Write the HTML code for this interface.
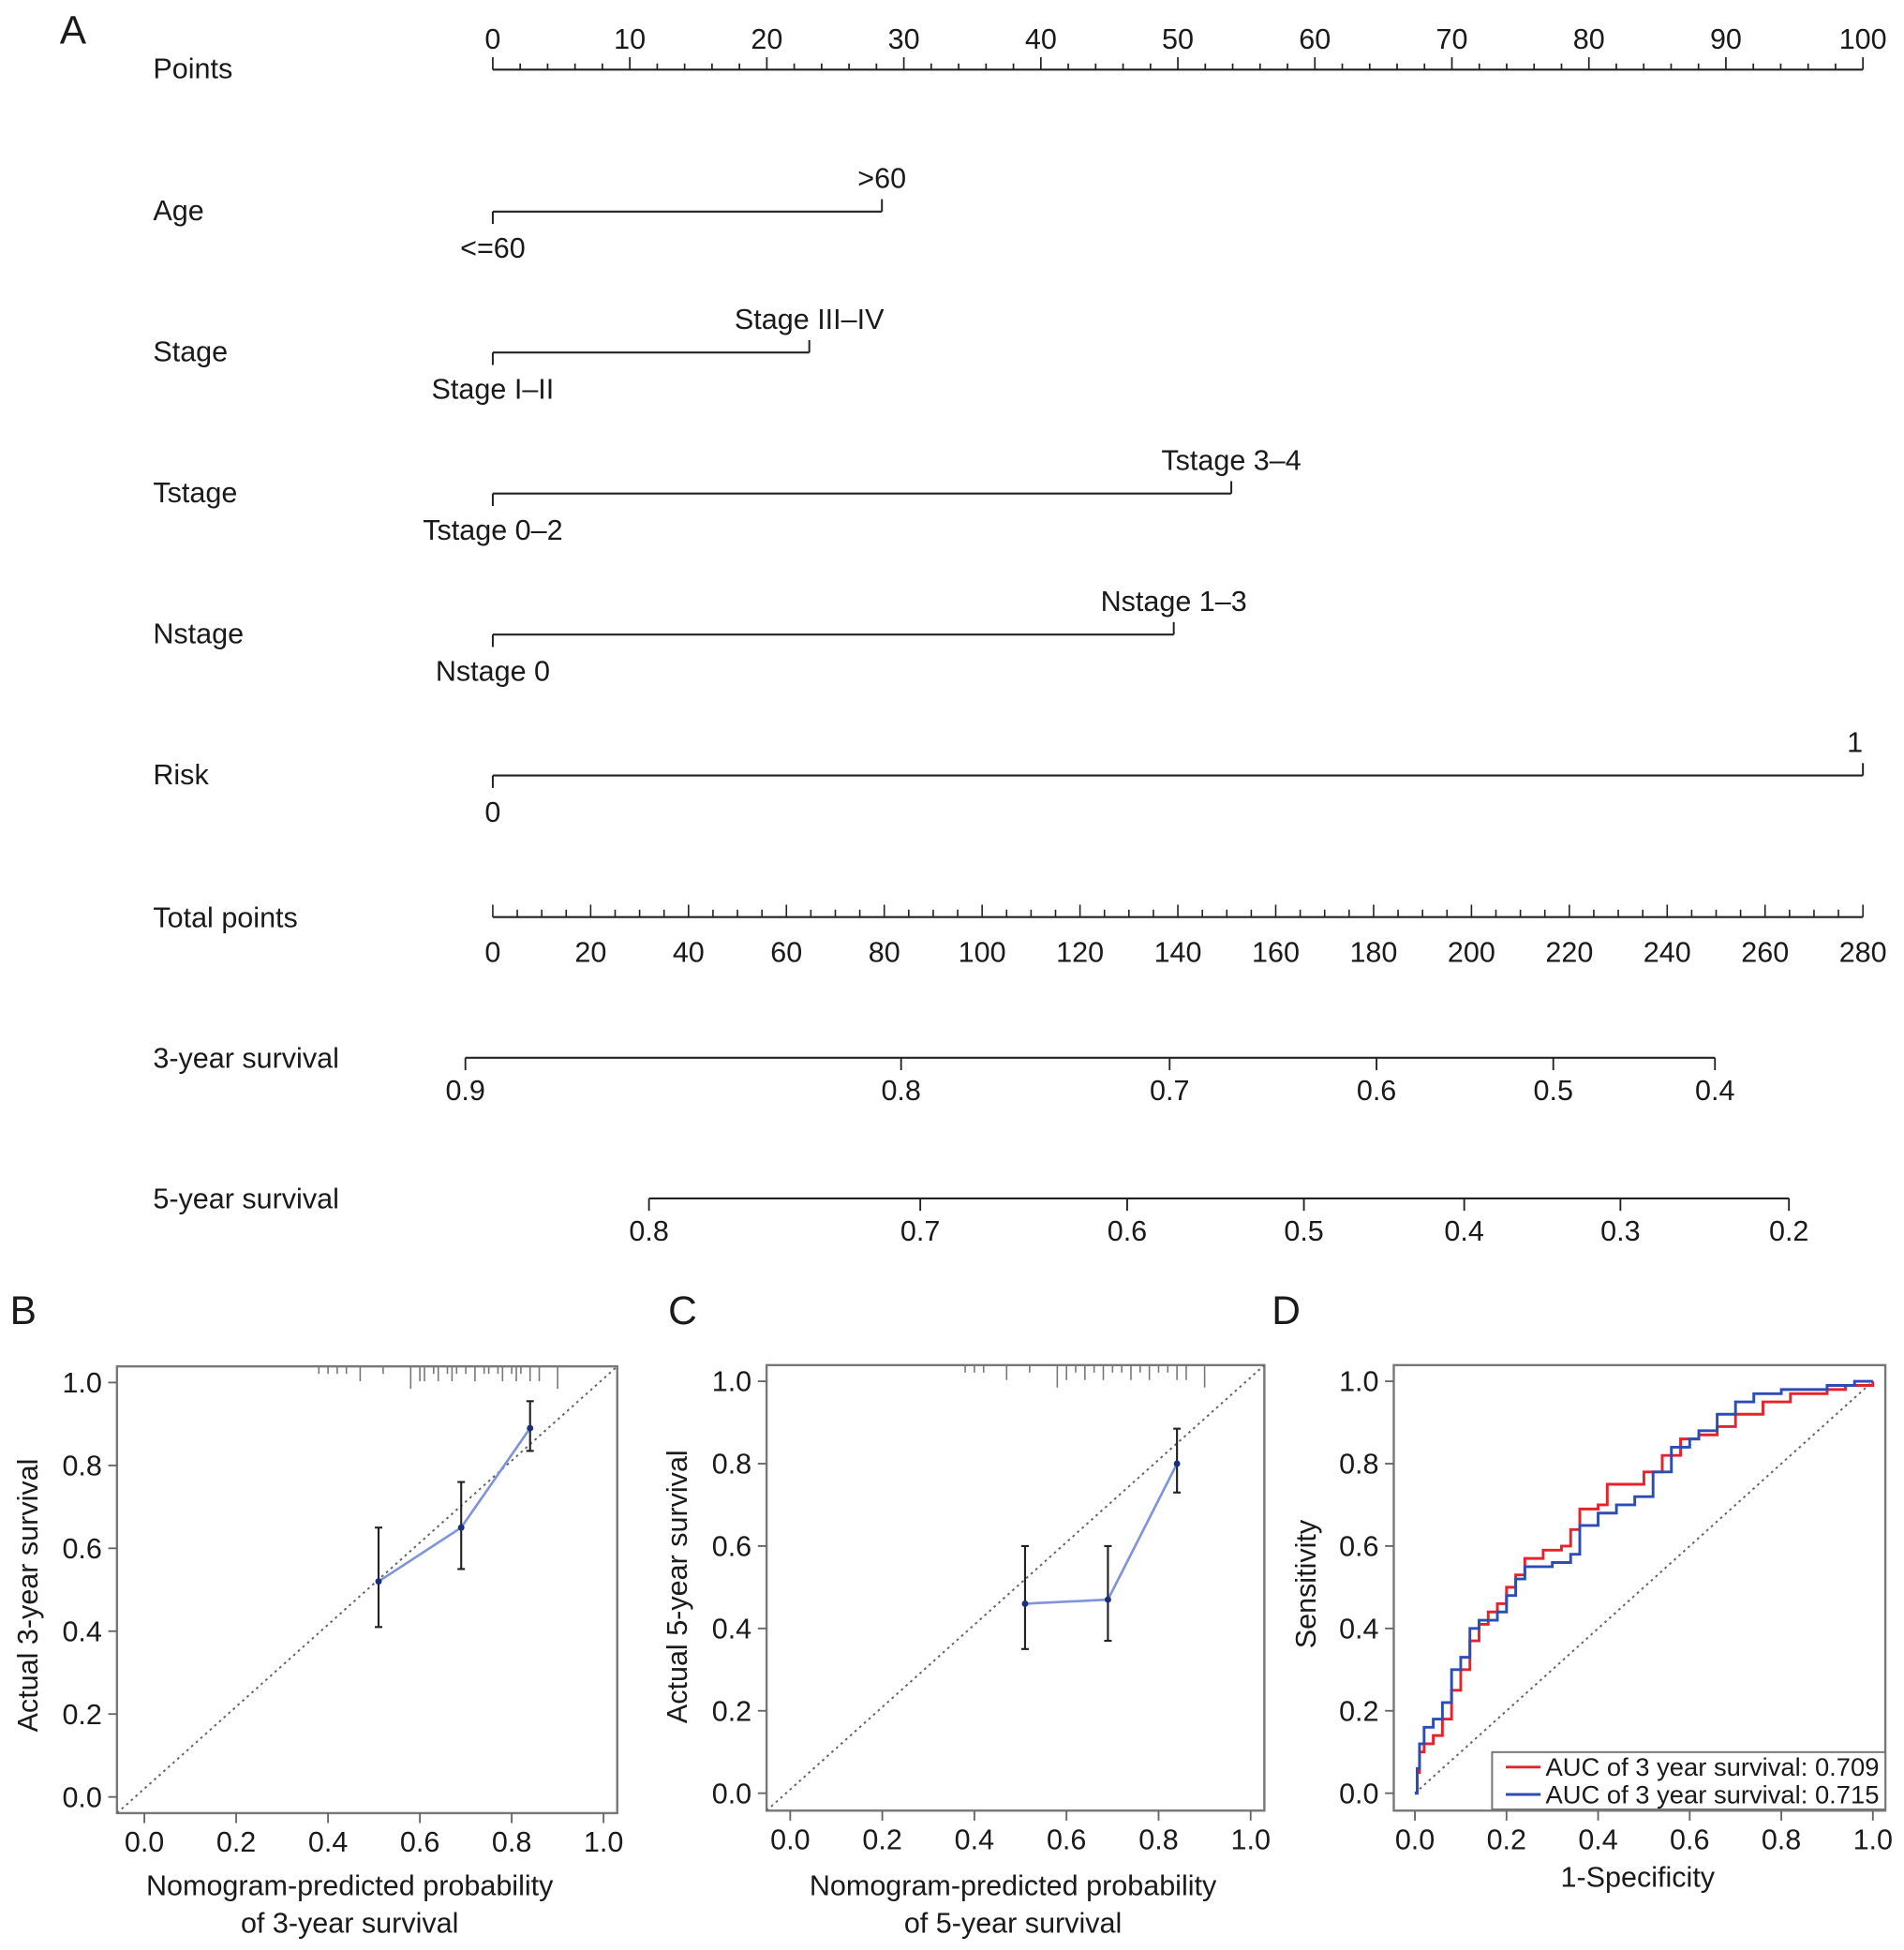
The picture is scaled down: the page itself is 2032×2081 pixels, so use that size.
<!DOCTYPE html>
<html><head><meta charset="utf-8"><style>
html,body{margin:0;padding:0;background:#fff}
svg{display:block}
text{font-family:"Liberation Sans",Arial,sans-serif;fill:#1a1a1a}
</style></head><body>
<svg id="fig" width="2032" height="2081" viewBox="0 0 1530 1567" preserveAspectRatio="none" xmlns="http://www.w3.org/2000/svg"></svg>
<script>
// ---------- Nomogram data ----------
const nomoRows = ["Age","Stage","Tstage","Nstage","Risk"];
const nomoHi = [28.4, 23.1, 53.9, 49.7, 100];
const nomoLowLabels = ["<=60","Stage I–II","Tstage 0–2","Nstage 0","0"];
const nomoHighLabels = [">60","Stage III–IV","Tstage 3–4","Nstage 1–3","1"];
const pointTicks = [0,10,20,30,40,50,60,70,80,90,100];
const totalTicks = [0,20,40,60,80,100,120,140,160,180,200,220,240,260,280];
const surv3Ticks = [0.9,0.8,0.7,0.6,0.5,0.4];
const surv3Pos = [-2,29.8,49.4,64.5,77.4,89.2];
const surv5Ticks = [0.8,0.7,0.6,0.5,0.4,0.3,0.2];
const surv5Pos = [11.4,31.2,46.3,59.2,70.9,82.3,94.6];
// ---------- Calibration data ----------
const calBx = [0.51,0.69,0.84];
const calBy = [0.52,0.65,0.89];
const calBlo = [0.41,0.55,0.835];
const calBhi = [0.65,0.76,0.955];
const calCx = [0.51,0.69,0.84];
const calCy = [0.46,0.47,0.80];
const calClo = [0.35,0.37,0.73];
const calChi = [0.60,0.60,0.885];
const rugB = [0.38,0.4,0.42,0.44,0.47,0.52,0.58,0.6,0.61,0.63,0.64,0.66,0.67,0.68,0.7,0.72,0.74,0.75,0.77,0.78,0.8,0.81,0.82,0.84,0.86,0.9];
const rugBlen = [1,1,1,1,2,1,3,2,2,1,2,1,2,1,1,2,1,1,1,2,1,2,1,2,2,3];
const rugC = [0.38,0.4,0.42,0.47,0.52,0.58,0.6,0.62,0.64,0.66,0.68,0.7,0.72,0.74,0.76,0.78,0.8,0.82,0.84,0.86,0.9];
const rugClen = [1,1,1,2,1,3,2,1,2,1,2,1,1,2,1,2,1,1,2,2,3];
// ---------- ROC data ----------
const rocRedX = [0,0.005,0.01,0.02,0.04,0.06,0.08,0.1,0.12,0.14,0.16,0.18,0.2,0.22,0.24,0.28,0.32,0.34,0.36,0.38,0.4,0.42,0.48,0.5,0.54,0.58,0.62,0.66,0.7,0.76,0.82,0.9,0.94,1];
const rocRedY = [0,0.05,0.1,0.12,0.14,0.18,0.25,0.3,0.37,0.41,0.44,0.46,0.5,0.53,0.57,0.59,0.6,0.64,0.69,0.69,0.7,0.75,0.75,0.78,0.82,0.86,0.87,0.89,0.92,0.95,0.97,0.98,0.99,1];
const rocBlueX = [0,0.005,0.01,0.02,0.04,0.06,0.08,0.1,0.12,0.14,0.18,0.2,0.22,0.24,0.3,0.34,0.36,0.4,0.44,0.48,0.52,0.56,0.6,0.62,0.66,0.7,0.74,0.8,0.9,0.96,1];
const rocBlueY = [0,0.06,0.12,0.16,0.18,0.22,0.3,0.33,0.4,0.42,0.44,0.48,0.52,0.55,0.56,0.58,0.65,0.68,0.7,0.72,0.78,0.84,0.86,0.88,0.92,0.95,0.97,0.98,0.99,1,1];
const legendLabels = ["AUC of 3 year survival: 0.709","AUC of 3 year survival: 0.715"];

const NS="http://www.w3.org/2000/svg";
const svg=document.getElementById('fig');
const FS=23;
function mk(tag,attrs,parent){const e=document.createElementNS(NS,tag);for(const k in attrs)e.setAttribute(k,attrs[k]);(parent||svg).appendChild(e);return e;}
function txt(s,x,y,size,anchor,parent){const t=mk('text',{x:x,y:y,'font-size':size,'text-anchor':anchor||'start'},parent);t.textContent=s;return t;}

[["A",48,35],["B",8,1064],["C",537,1064],["D",1022,1064]].forEach(p=>{
  const t=txt(p[0],p[1],p[2],32);
  
  
});

// ---------- Panel A ----------
const px = v => 396 + v*(1497-396)/100;
const gA=mk('g',{});


function rowLabel(s,y){const t=txt(s,123,y+8,FS,'start',gA);}
rowLabel("Points",55);
mk('line',{x1:px(0),x2:px(100),y1:56,y2:56,stroke:'#222','stroke-width':1.6},gA);
for(let i=0;i<=50;i++){const v=i*2;const big=v%10===0;mk('line',{x1:px(v),x2:px(v),y1:56,y2:big?46:51,stroke:'#222','stroke-width':1.3},gA);}
pointTicks.forEach(v=>{const t=txt(String(v),px(v),39,FS,'middle',gA);});
nomoRows.forEach((r,i)=>{
  const y=170+i*113.3;
  rowLabel(r,y-1);
  const ln=mk('line',{x1:px(0),x2:px(nomoHi[i]),y1:y,y2:y,stroke:'#222','stroke-width':1.6},gA);
  
  
  mk('line',{x1:px(0),x2:px(0),y1:y,y2:y+10,stroke:'#222','stroke-width':1.5},gA);
  mk('line',{x1:px(nomoHi[i]),x2:px(nomoHi[i]),y1:y,y2:y-10,stroke:'#222','stroke-width':1.5},gA);
  const lo=txt(nomoLowLabels[i],px(0),y+37,FS,'middle',gA);
  
  
  const hi=txt(nomoHighLabels[i],px(nomoHi[i]),y-19,FS,nomoHi[i]>=100?'end':'middle',gA);
  
  
});
const ty=737;
rowLabel("Total points",ty);
const tx=v=>px(v*100/280);
mk('line',{x1:tx(0),x2:tx(280),y1:ty,y2:ty,stroke:'#222','stroke-width':1.6},gA);
for(let v=0;v<=280;v+=5){const big=v%20===0;mk('line',{x1:tx(v),x2:tx(v),y1:ty,y2:ty-(big?10:6),stroke:'#222','stroke-width':1.2},gA);}
totalTicks.forEach(v=>{const t=txt(String(v),tx(v),ty+36,FS,'middle',gA);});
function survAxis(label,y,ticks,pos){
  rowLabel(label,y);
  mk('line',{x1:px(pos[0]),x2:px(pos[pos.length-1]),y1:y,y2:y,stroke:'#222','stroke-width':1.6},gA);
  ticks.forEach((v,i)=>{
    mk('line',{x1:px(pos[i]),x2:px(pos[i]),y1:y,y2:y+10,stroke:'#222','stroke-width':1.4},gA);
    const t=txt(v.toFixed(1),px(pos[i]),y+34,FS,'middle',gA);
    
    
  });
}
survAxis("3-year survival",850,surv3Ticks,surv3Pos);
survAxis("5-year survival",963,surv5Ticks,surv5Pos);

function frame(box,x0,x1,y0,y1,name){
  const g=mk('g',{});
  
  
  const sx=v=>x0+v*(x1-x0), sy=v=>y0-v*(y0-y1);
  mk('rect',{x:box[0],y:box[1],width:box[2]-box[0],height:box[3]-box[1],fill:'none',stroke:'#777','stroke-width':1.8},g);
  [0,0.2,0.4,0.6,0.8,1].forEach(v=>{
    mk('line',{x1:sx(v),x2:sx(v),y1:box[3],y2:box[3]+8,stroke:'#666','stroke-width':1.4},g);
    const t=txt(v.toFixed(1),sx(v),box[3]+31,FS,'middle',g);
    
    
    mk('line',{x1:box[0],x2:box[0]-7,y1:sy(v),y2:sy(v),stroke:'#666','stroke-width':1.4},g);
    const u=txt(v.toFixed(1),box[0]-12,sy(v)+8,FS,'end',g);
    
    
  });
  return {g,sx,sy};
}
function calPanel(box,x0,x1,y0,y1,xs,ys,lo,hi,rug,rugLen,name){
  const {g,sx,sy}=frame(box,x0,x1,y0,y1,name);
  const d=mk('line',{x1:box[0],y1:box[3],x2:box[2],y2:box[1],stroke:'#666','stroke-width':1.5,'stroke-dasharray':'2,3'},g);
  
  
  rug.forEach((v,i)=>{
    const r=mk('line',{x1:sx(v),x2:sx(v),y1:box[1],y2:box[1]+rugLen[i]*6,stroke:'#777','stroke-width':1.2},g);
    
    
  });
  const pl=mk('polyline',{points:xs.map((v,i)=>sx(v)+','+sy(ys[i])).join(' '),fill:'none',stroke:'#7f95d8','stroke-width':2},g);
  
  
  xs.forEach((v,i)=>{
    const e=mk('line',{x1:sx(v),x2:sx(v),y1:sy(lo[i]),y2:sy(hi[i]),stroke:'#222','stroke-width':1.6},g);
    
    
    mk('line',{x1:sx(v)-3,x2:sx(v)+3,y1:sy(lo[i]),y2:sy(lo[i]),stroke:'#222','stroke-width':1.6},g);
    mk('line',{x1:sx(v)-3,x2:sx(v)+3,y1:sy(hi[i]),y2:sy(hi[i]),stroke:'#222','stroke-width':1.6},g);
    const c=mk('circle',{cx:sx(v),cy:sy(ys[i]),r:2.6,fill:'#1a2f7a'},g);
    
    
  });
  return g;
}
const gB=calPanel([94,1098,496,1457],116,485,1444,1111,calBx,calBy,calBlo,calBhi,rugB,rugBlen,'calibration-3-year');
let t=txt("Actual 3-year survival",0,0,FS,'middle',gB);
t.setAttribute('transform','translate(30,1282) rotate(-90)');


t=txt("Nomogram-predicted probability",281,1523,FS,'middle',gB);


t=txt("of 3-year survival",281,1553,FS,'middle',gB);


const gC=calPanel([616,1097,1016,1455],635,1005,1441,1110,calCx,calCy,calClo,calChi,rugC,rugClen,'calibration-5-year');
t=txt("Actual 5-year survival",0,0,FS,'middle',gC);
t.setAttribute('transform','translate(552,1275) rotate(-90)');


t=txt("Nomogram-predicted probability",814,1523,FS,'middle',gC);


t=txt("of 5-year survival",814,1553,FS,'middle',gC);


const fD=frame([1120,1097,1515,1455],1137,1505,1441,1110,'roc-curve');
const gD=fD.g;
const d2=mk('line',{x1:fD.sx(0),y1:fD.sy(0),x2:fD.sx(1),y2:fD.sy(1),stroke:'#666','stroke-width':1.5,'stroke-dasharray':'2,3'},gD);


function stepPts(xs,ys){let p=[];xs.forEach((v,i)=>{if(i>0)p.push(fD.sx(v)+','+fD.sy(ys[i-1]));p.push(fD.sx(v)+','+fD.sy(ys[i]));});return p.join(' ');}
const rr=mk('polyline',{points:stepPts(rocRedX,rocRedY),fill:'none',stroke:'#e8222a','stroke-width':2.2},gD);


const rb=mk('polyline',{points:stepPts(rocBlueX,rocBlueY),fill:'none',stroke:'#2b4db5','stroke-width':2.2},gD);


const lg=mk('g',{},gD);


mk('rect',{x:1199,y:1408,width:316,height:46,fill:'#fff',stroke:'#777','stroke-width':1.5},lg);
const lc=['#e8222a','#2b4db5'];
legendLabels.forEach((s,i)=>{
  const y=1420+i*22;
  mk('line',{x1:1210,x2:1238,y1:y,y2:y,stroke:lc[i],'stroke-width':2.2},lg);
  const e=txt(s,1242,y+7,20,'start',lg);
  e.setAttribute('textLength','268');
  e.setAttribute('lengthAdjust','spacingAndGlyphs');
  
  
});
t=txt("Sensitivity",0,0,FS,'middle',gD);
t.setAttribute('transform','translate(1057,1273) rotate(-90)');


t=txt("1-Specificity",1316,1516,FS,'middle',gD);


</script>
</body></html>
